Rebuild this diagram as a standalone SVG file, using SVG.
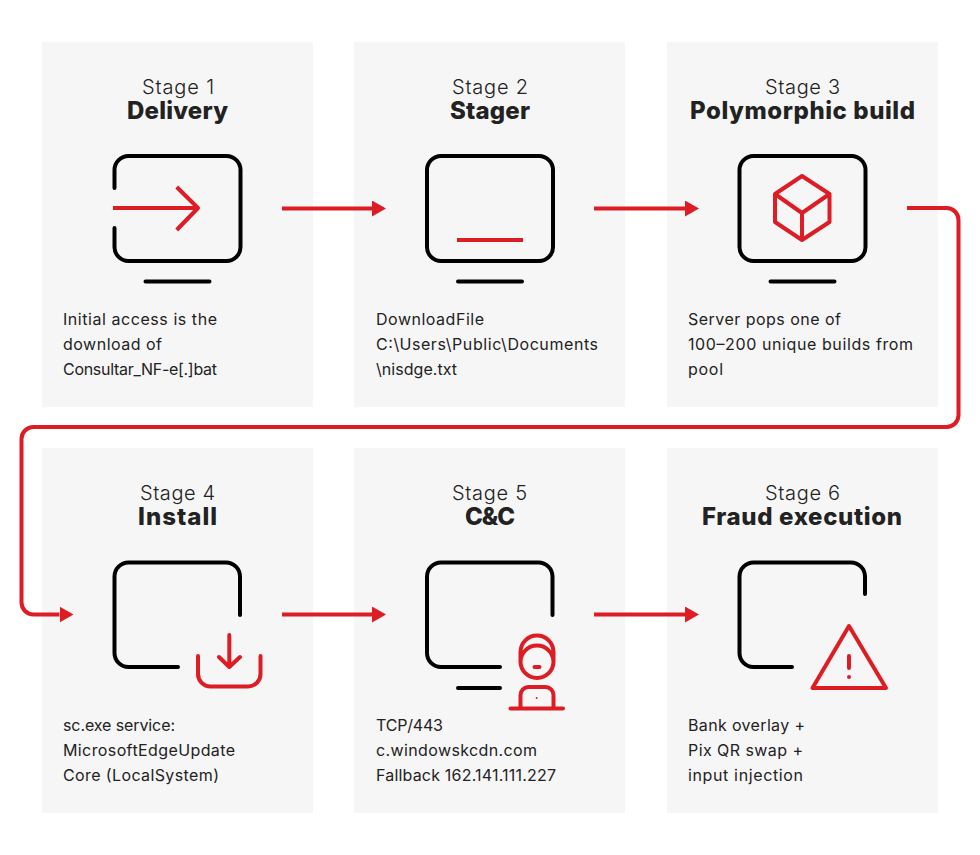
<svg xmlns="http://www.w3.org/2000/svg" width="980" height="855" viewBox="0 0 980 855">
<style>
.bg{fill:#f6f6f6}
.m{fill:none;stroke:#000;stroke-width:4;stroke-linecap:round;stroke-linejoin:round}
.r{fill:none;stroke:#dd1c24;stroke-width:4;stroke-linecap:round;stroke-linejoin:round}
.b{stroke-linecap:butt}
.c{fill:none;stroke:#dd1c24;stroke-width:4}
text{font-family:"Inter","Liberation Sans",sans-serif;fill:#222}
.s{font-size:20px;font-weight:300;text-anchor:middle}
.t{font-size:24px;font-weight:800;text-anchor:middle}
.d{font-size:16px}
</style>
<defs><marker id="a" markerUnits="userSpaceOnUse" markerWidth="14" markerHeight="16" refX="0" refY="8" orient="auto"><path d="M0 0L14 8L0 16Z" fill="#dd1c24"/></marker></defs>
<g id="stage1"><rect class="bg" x="42" y="42" width="271" height="365"/>
<text class="s" x="178" y="94" textLength="72">Stage 1</text><text class="t" x="177.500" y="119" textLength="101">Delivery</text>
<path class="m" d="M114.500 188V170A14 14 0 0 1 128.500 156H226.500A14 14 0 0 1 240.500 170V247A14 14 0 0 1 226.500 261H128.500A14 14 0 0 1 114.500 247V228M145.500 281.500H209.500"/>
<path class="r b" d="M113 208H199M176.700 187L198 208L176.700 230"/>
<text class="d" x="63" y="325" textLength="154">Initial access is the</text><text class="d" x="63" y="350" textLength="99">download of</text><text class="d" x="63" y="375" textLength="154">Consultar_NF-e[.]bat</text></g>
<g id="stage2"><rect class="bg" x="354" y="42" width="271" height="365"/>
<text class="s" x="490" y="94" textLength="76">Stage 2</text><text class="t" x="490" y="119" textLength="80">Stager</text>
<path class="m" d="M441 156H539A14 14 0 0 1 553 170V247A14 14 0 0 1 539 261H441A14 14 0 0 1 427 247V170A14 14 0 0 1 441 156ZM458 281.500H522"/>
<path class="r b" d="M457 240H523"/>
<text class="d" x="376" y="325" textLength="108">DownloadFile</text><text class="d" x="376" y="350" textLength="222">C:\Users\Public\Documents</text><text class="d" x="376" y="375" textLength="81">\nisdge.txt</text></g>
<g id="stage3"><rect class="bg" x="667" y="42" width="271" height="365"/>
<text class="s" x="802.500" y="94" textLength="75">Stage 3</text><text class="t" x="802.500" y="119" textLength="225">Polymorphic build</text>
<path class="m" d="M753.500 156H851.500A14 14 0 0 1 865.500 170V247A14 14 0 0 1 851.500 261H753.500A14 14 0 0 1 739.500 247V170A14 14 0 0 1 753.500 156ZM770.500 281.500H834.500"/>
<path class="r" d="M802 176L829.500 194V222L802 240L775 222V194ZM775 194L802 213L829.500 194M802 213V240"/>
<text class="d" x="688" y="325" textLength="153">Server pops one of</text><text class="d" x="688" y="350" textLength="225">100–200 unique builds from</text><text class="d" x="688" y="375" textLength="35">pool</text></g>
<g id="stage4"><rect class="bg" x="42" y="448" width="271" height="365"/>
<text class="s" x="177.500" y="500" textLength="75">Stage 4</text><text class="t" x="177.500" y="525" textLength="79">Install</text>
<path class="m" d="M240 615V576.500A14 14 0 0 0 226 562.500H128.500A14 14 0 0 0 114.500 576.500V653A14 14 0 0 0 128.500 667H178"/>
<path class="r" d="M198 656V674A12.500 12.500 0 0 0 210.500 686.500H248A12.500 12.500 0 0 0 260.500 674V656M229.300 635V667M219 657L229.300 667L240 657"/>
<text class="d" x="63" y="731" textLength="112">sc.exe service:</text><text class="d" x="63" y="756" textLength="172">MicrosoftEdgeUpdate</text><text class="d" x="63" y="781" textLength="156">Core (LocalSystem)</text></g>
<g id="stage5"><rect class="bg" x="354" y="448" width="271" height="365"/>
<text class="s" x="489.500" y="500" textLength="75">Stage 5</text><text class="t" x="490" y="525" textLength="50">C&amp;C</text>
<path class="m" d="M552.500 615V576.500A14 14 0 0 0 538.500 562.500H441A14 14 0 0 0 427 576.500V653A14 14 0 0 0 441 667H500M458 688H500"/>
<path class="r" d="M520.500 652A16.500 16.500 0 0 1 553.500 652V661.500A16.500 16.500 0 0 1 520.500 661.500ZM520.500 662A16.500 16.500 0 0 1 553.500 662M534.500 667H539.500M520.500 708V695A8 8 0 0 1 528.500 687H545.500A8 8 0 0 1 553.500 695V708M510.500 708.500H563"/>
<circle cx="536.700" cy="698" r="1" fill="#dd1c24"/>
<text class="d" x="376" y="731" textLength="67">TCP/443</text><text class="d" x="376" y="756" textLength="161">c.windowskcdn.com</text><text class="d" x="376" y="781" textLength="180">Fallback 162.141.111.227</text></g>
<g id="stage6"><rect class="bg" x="667" y="448" width="271" height="365"/>
<text class="s" x="802.500" y="500" textLength="75">Stage 6</text><text class="t" x="802" y="525" textLength="200">Fraud execution</text>
<path class="m" d="M865 594V576.500A14 14 0 0 0 851 562.500H753.500A14 14 0 0 0 739.500 576.500V653A14 14 0 0 0 753.500 667H792"/>
<path class="r" d="M849 626L812.500 688H886ZM849 656V668"/>
<circle cx="849" cy="677" r="2" fill="#dd1c24"/>
<text class="d" x="688" y="731" textLength="117">Bank overlay +</text><text class="d" x="688" y="756" textLength="115">Pix QR swap +</text><text class="d" x="688" y="781" textLength="115">input injection</text></g>
<g id="connectors">
<path class="c" marker-end="url(#a)" d="M282 208.500H372"/>
<path class="c" marker-end="url(#a)" d="M594 208.500H685"/>
<path class="c" marker-end="url(#a)" d="M907 208H946.500A12 12 0 0 1 958.500 220V415A12 12 0 0 1 946.500 427H33.500A12 12 0 0 0 21.500 439V602.500A12 12 0 0 0 33.500 614.500H59.500"/>
<path class="c" marker-end="url(#a)" d="M282 614.500H372"/>
<path class="c" marker-end="url(#a)" d="M594 614.500H685"/>
</g>
</svg>
